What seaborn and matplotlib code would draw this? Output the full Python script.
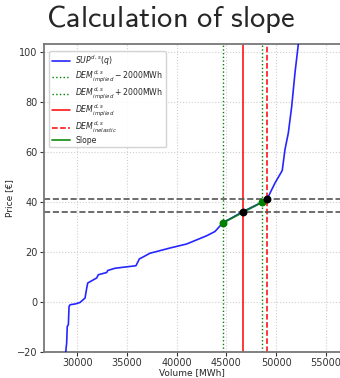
import matplotlib
matplotlib.use("Agg")
import matplotlib.pyplot as plt
import seaborn as sns
import pandas as pd

# Supply curve (volume MWh, price €)
sup_volume = [28830, 28930, 28990, 29100, 29170, 29270, 29770, 30270, 30780, 30950,
              31050, 31950, 32110, 32960, 33060, 33790, 35900, 36240, 37310, 39330,
              41000, 43020, 43850, 44630, 46630, 48630, 49110, 49890, 50620, 50890,
              51230, 51570, 51900, 52230, 52300]
sup_price = [-20.5, -16.6, -10.0, -9.3, -2.0, -1.3, -1.0, -0.4, 1.4, 5.4,
             7.4, 9.4, 10.7, 11.6, 12.4, 13.3, 14.3, 17.0, 19.3, 21.4,
             23.0, 26.3, 28.0, 31.4, 35.9, 39.8, 41.1, 47.4, 52.4, 60.7,
             67.4, 78.0, 91.4, 102.7, 106.0]

dem_implied = 46630
dem_inelastic = 49110
dem_minus = 44630
dem_plus = 48630

slope_volume = [44630, 48630]
slope_price = [31.4, 39.8]
black_volume = [46630, 49110]
black_price = [35.9, 41.1]

xticks = [30000, 35000, 40000, 45000, 50000, 55000]
yticks = [-20, 0, 20, 40, 60, 80, 100]

sns.set_style("whitegrid", {"grid.linestyle": ":", "grid.color": "#cfcfcf",
                            "axes.edgecolor": "#777777"})
plt.rcParams['font.family'] = ['DejaVu Sans']

fig = plt.figure(figsize=(3.4, 3.78), dpi=100)
ax = fig.add_axes([44 / 340, 26 / 378, 296 / 340, 308 / 378])

df = pd.DataFrame({"Volume": sup_volume, "Price": sup_price})
sns.lineplot(data=df, x="Volume", y="Price", sort=False, color="blue", lw=1.2,
             alpha=0.85, ax=ax, label=r"$SUP^{d,s}(q)$", zorder=3)

ax.axvline(dem_minus, color="green", ls=":", lw=1.0,
           label=r"$DEM^{d,s}_{implied} - 2000$MWh")
ax.axvline(dem_plus, color="green", ls=":", lw=1.0,
           label=r"$DEM^{d,s}_{implied} + 2000$MWh")
ax.axvline(dem_implied, color="red", ls="-", lw=1.1, label=r"$DEM^{d,s}_{implied}$")
ax.axvline(dem_inelastic, color="red", ls="--", lw=1.1, label=r"$DEM^{d,s}_{inelastic}$")

for p in black_price:
    ax.axhline(p, color="#555555", ls="--", lw=1.2, zorder=2)

sns.lineplot(x=slope_volume, y=slope_price, color="green", lw=1.4, ax=ax,
             label="Slope", zorder=4, alpha=0.8)
ax.scatter(slope_volume, slope_price, color="green", s=22, zorder=5)
ax.scatter(black_volume, black_price, color="black", s=22, zorder=6)

ax.set_xlim(26650, 56430)
ax.set_ylim(-20.2, 103)
ax.set_xticks(xticks)
ax.set_yticks(yticks)
ax.tick_params(axis="both", labelsize=7, colors="#333333", length=3, width=0.8,
               direction="out", left=True, bottom=True, pad=1.5)
ax.set_xlabel("Volume [MWh]", fontsize=6.5, labelpad=0)
ax.set_ylabel("Price [€]", fontsize=6.5, labelpad=2)
ax.spines["right"].set_visible(False)
for s in ["left", "bottom", "top"]:
    ax.spines[s].set_linewidth(1.3)

leg = ax.legend(loc="upper left", fontsize=5.6, frameon=True, framealpha=0.85,
                borderpad=0.35, handlelength=2.3, labelspacing=0.1,
                handletextpad=0.7, bbox_to_anchor=(0.005, 0.99))
leg.get_frame().set_edgecolor("#cccccc")

fig.text(171 / 340, 1 - 19 / 378, r"$\mathsf{Calculation\ of\ slope}$",
         ha="center", va="center", fontsize=22, math_fontfamily="cm")

fig.savefig("out.png", dpi=100)
